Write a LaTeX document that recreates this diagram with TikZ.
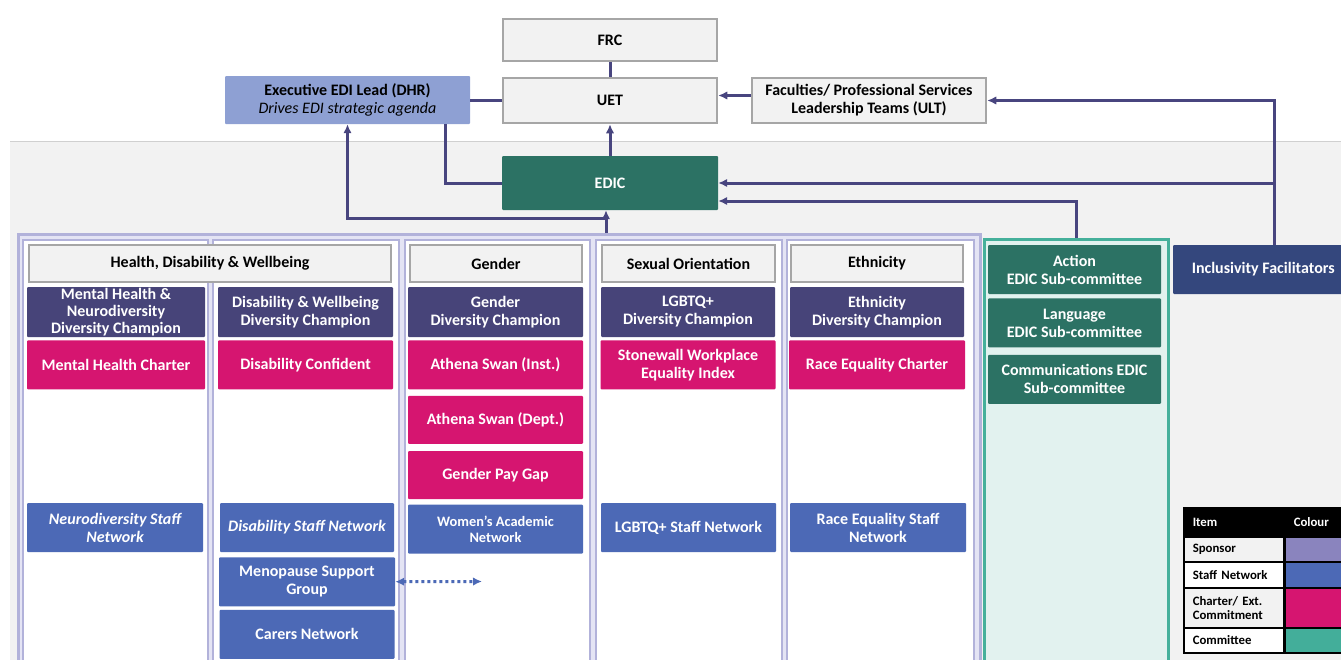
\documentclass[tikz,border=0pt]{standalone}
\usepackage{fontspec}
\setmainfont{Carlito}
\usetikzlibrary{arrows.meta, positioning}

\definecolor{palec}{HTML}{F2F2F2}
\definecolor{rimc}{HTML}{A6A6A6}
\definecolor{rulec}{HTML}{D0D0D0}
\definecolor{execc}{HTML}{8EA0D3}
\definecolor{edicc}{HTML}{2C7264}
\definecolor{champc}{HTML}{474479}
\definecolor{charterc}{HTML}{D61570}
\definecolor{staffc}{HTML}{4C69B6}
\definecolor{navyc}{HTML}{34477D}
\definecolor{wirec}{HTML}{48457F}
\definecolor{lavc}{HTML}{E4E4F4}
\definecolor{lavrimc}{HTML}{B2B2DA}
\definecolor{mintc}{HTML}{E2F2EF}
\definecolor{mintrimc}{HTML}{45B09B}
\definecolor{sponsorc}{HTML}{8A84BE}
\definecolor{committeec}{HTML}{43AE9A}

\newcommand{\boxfont}{\fontsize{16}{18}\selectfont}
\newcommand{\smallboxfont}{\fontsize{14.4}{16.5}\selectfont}
\newcommand{\legfont}{\fontsize{12.8}{14}\selectfont\bfseries}

\tikzstyle{greybox} = [draw=rimc, line width=2.5pt, fill=palec, align=center, inner sep=0pt, font=\boxfont\bfseries]
\tikzstyle{block} = [rounded corners=1pt, align=center, inner sep=0pt, text=white, font=\boxfont\bfseries]
\tikzstyle{sponsorbox} = [block, fill=champc]
\tikzstyle{charterbox} = [block, fill=charterc]
\tikzstyle{staffbox} = [block, fill=staffc]
\tikzstyle{commbox} = [block, fill=edicc]
\tikzstyle{panel} = [anchor=north west, inner sep=0pt, line width=2.5pt]
\tikzstyle{lane} = [draw=lavrimc, line width=2.5pt, fill=white]
\tikzstyle{wire} = [draw=wirec, line width=3pt]
\tikzstyle{legcell} = [draw=black, line width=1.5pt, anchor=north west, inner xsep=9pt, inner ysep=0pt, text width=82pt, align=left, font=\legfont]
\tikzstyle{swatch} = [draw=black, line width=1.5pt, anchor=north west, minimum width=100pt]
\tikzset{bsize/.style 2 args={minimum width=#1pt, minimum height=#2pt}}

\begin{document}
\begin{tikzpicture}[x=1pt, y=-1pt, >={Latex[length=9pt,width=8.5pt]}]
  \useasboundingbox (0,0) rectangle (1341,659);
  % backdrop
  \fill[palec] (10,141) rectangle (1360,680);
  \draw[rulec, line width=1pt] (10,141) -- (1360,141);

  % governance
  \node[greybox, bsize={214}{42}] (frc) at (610,40) {FRC};
  \node[greybox, bsize={214}{45}] (uet) at (610,100.5) {UET};
  \node[fill=execc, rounded corners=1pt, bsize={245}{48}, align=center, inner sep=0pt, font=\boxfont] (exec) at (347.5,100) {{\bfseries Executive EDI Lead (DHR)}\\{\itshape Drives EDI strategic agenda}};
  \node[greybox, bsize={234}{45}] (fac) at (869,100.5) {Faculties/ Professional Services\\Leadership Teams (ULT)};
  \node[commbox, bsize={216}{54}] (edic) at (610,183) {EDIC};

  % diversity strands
  \node[panel, draw=lavrimc, fill=lavc, bsize={962}{440}] (dom) at (17,233) {};
  \foreach \l/\r in {23/208, 213/399, 405/590, 596/782, 787/974}
    \draw[lane] (\l,240) rectangle (\r,690);
  \node[greybox, bsize={362}{37}] (hdw) at (210,263.5) {Health, Disability \& Wellbeing};
  \node[greybox, bsize={172}{37}] (gen) at (496,263.5) {Gender};
  \node[greybox, bsize={173}{37}] (sex) at (688.5,263.5) {Sexual Orientation};
  \node[greybox, bsize={172}{37}] (eth) at (877,263.5) {Ethnicity};

  \node[sponsorbox, bsize={178}{50}, font=\fontsize{16}{17}\selectfont\bfseries] (champA) at (116,312) {Mental Health \&\\Neurodiversity\\Diversity Champion};
  \node[sponsorbox, bsize={175}{50}] (champB) at (305.5,312) {Disability \& Wellbeing\\Diversity Champion};
  \node[sponsorbox, bsize={175}{50}] (champG) at (495.5,312) {Gender\\Diversity Champion};
  \node[sponsorbox, bsize={174}{50}] (champS) at (688,312) {LGBTQ+\\Diversity Champion};
  \node[sponsorbox, bsize={174}{50}] (champE) at (877,312) {Ethnicity\\Diversity Champion};

  \node[charterbox, bsize={178}{49}, below=3pt of champA] (chartA) {Mental Health Charter};
  \node[charterbox, bsize={175}{49}, below=3pt of champB] (chartB) {Disability Confident};
  \node[charterbox, bsize={175}{49}, below=3pt of champG] (athInst) {Athena Swan (Inst.)};
  \node[charterbox, bsize={175}{48}, below=6pt of athInst] (athDept) {Athena Swan (Dept.)};
  \node[charterbox, bsize={175}{48}, below=7pt of athDept] (payGap) {Gender Pay Gap};
  \node[charterbox, bsize={175}{49}, below=3pt of champS] (chartS) {Stonewall Workplace\\Equality Index};
  \node[charterbox, bsize={176}{49}, below=3pt of champE] (chartE) {Race Equality Charter};

  \node[staffbox, bsize={176}{49}, font=\boxfont\bfseries\itshape] (netA) at (115,527.5) {Neurodiversity Staff\\Network};
  \node[staffbox, bsize={174}{49}, font=\boxfont\bfseries\itshape] (netB) at (307,527.5) {Disability Staff Network};
  \node[staffbox, bsize={175}{49}, below=5pt of payGap, font=\smallboxfont\bfseries] (netG) {Women's Academic\\Network};
  \node[staffbox, bsize={175}{49}] (netS) at (688.5,527.5) {LGBTQ+ Staff Network};
  \node[staffbox, bsize={176}{49}] (netE) at (878,527.5) {Race Equality Staff\\Network};
  \node[staffbox, bsize={176}{49}, below=5pt of netB] (meno) {Menopause Support\\Group};
  \node[staffbox, bsize={175}{49}, below=3pt of meno] (carers) {Carers Network};

  % sub-committees
  \node[panel, draw=mintrimc, fill=mintc, bsize={184}{440}] (sub) at (983,238) {};
  \node[commbox, bsize={173}{49}] (action) at (1074.5,269.5) {Action\\EDIC Sub-committee};
  \node[commbox, bsize={173}{49}, below=4pt of action] (lang) {Language\\EDIC Sub-committee};
  \node[commbox, bsize={173}{49}, below=7pt of lang] (comms) {Communications EDIC\\Sub-committee};
  \node[block, fill=navyc, bsize={180}{49}, anchor=west] (incl) at (1173,269.5) {Inclusivity Facilitators};

  % legend
  \node[legcell, fill=black, text=white, minimum height=29pt] (item) at (1183,507) {Item};
  \node[legcell, fill=black, text=white, minimum height=29pt] (colour) at (1284,507) {Colour};
  \node[legcell, fill=palec, minimum height=25pt] (legSponsor) at (1183,536) {Sponsor};
  \node[swatch, fill=sponsorc, minimum height=25pt] (swSponsor) at (1284,536) {};
  \node[legcell, fill=white, minimum height=26pt] (legStaff) at (1183,561) {Staff Network};
  \node[swatch, fill=staffc, minimum height=26pt] (swStaff) at (1284,561) {};
  \node[legcell, fill=palec, minimum height=40pt] (legCharter) at (1183,587) {Charter/ Ext.\\Commitment};
  \node[swatch, fill=charterc, minimum height=40pt] (swCharter) at (1284,587) {};
  \node[legcell, fill=white, minimum height=25pt] (legComm) at (1183,627) {Committee};
  \node[swatch, fill=committeec, minimum height=25pt] (swComm) at (1284,627) {};

  % connectors
  \draw[wire] (frc) -- (uet);
  \draw[wire] (exec.east) -- (exec.east -| uet.west);
  \draw[wire] ([xshift=97.5pt]exec.south) |- (edic);
  \draw[wire, ->] (edic) -- (uet);
  \coordinate (hub) at (606,233);
  \draw[wire, ->] (hub) -- (hub |- edic.south);
  \draw[wire, ->] ([yshift=15pt]hub) -| (exec);
  \draw[wire, ->] ([yshift=5pt]fac.west) -- ([yshift=5pt]fac.west -| uet.east);
  \coordinate (rise) at ([xshift=11pt]incl.north);
  \draw[wire, ->] (rise) |- (fac);
  \draw[wire, ->] (rise |- edic) -- (edic);
  \draw[wire, ->] (sub.north) |- ([yshift=-18pt]edic.east);
  \coordinate (dotend) at (482,581.5);
  \draw[staffc, line width=3pt, dash pattern=on 3pt off 3pt, <->] (meno) -- (dotend);
\end{tikzpicture}
\end{document}
